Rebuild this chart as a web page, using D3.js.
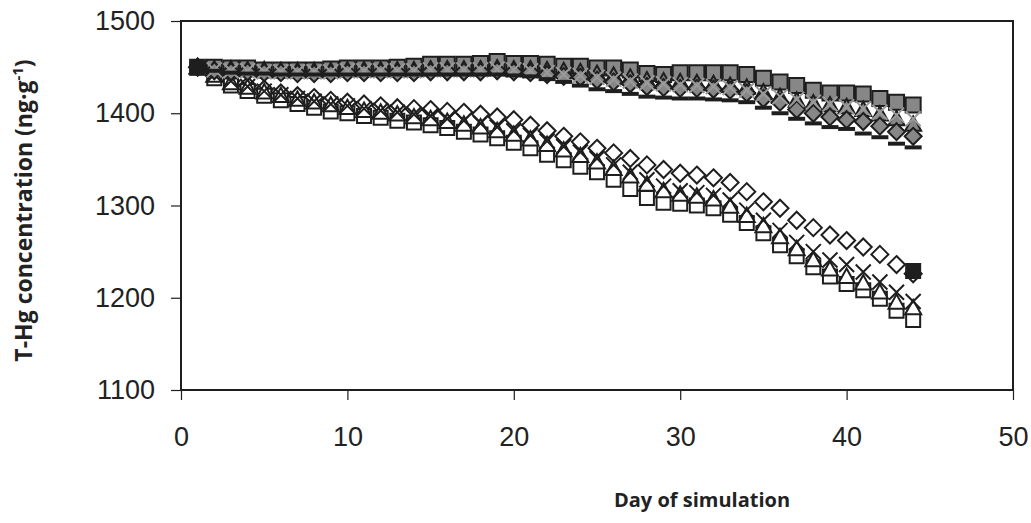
<!DOCTYPE html>
<html>
<head>
<meta charset="utf-8">
<script src="https://cdn.jsdelivr.net/npm/d3@7"></script>
<style>
  body { margin: 0; background: #fff; }
  svg { display: block; }
  .tick text { font-family: "Liberation Sans", Arial, sans-serif; fill: #222; }
  .title { font-family: "Open Sans", sans-serif; font-weight: 700; fill: #222; }
</style>
</head>
<body>
<svg id="chart" width="1031" height="523"></svg>
<script>
// Day of simulation for every modelled point.
var days = [1, 2, 3, 4, 5, 6, 7, 8, 9, 10, 11, 12, 13, 14, 15, 16, 17, 18, 19, 20, 21, 22,
  23, 24, 25, 26, 27, 28, 29, 30, 31, 32, 33, 34, 35, 36, 37, 38, 39, 40, 41, 42, 43, 44];

// Upper group (grey filled markers).
var upperSquares = [1450, 1450, 1449, 1449, 1447, 1447, 1447, 1447, 1448, 1449,
  1449, 1449, 1450, 1451, 1453, 1453, 1453, 1454, 1456, 1454,
  1454, 1453, 1451, 1451, 1449, 1449, 1447, 1443, 1442, 1444,
  1444, 1444, 1444, 1442, 1438, 1434, 1430, 1425, 1422, 1422,
  1421, 1416, 1412, 1409];
var upperTriangles = [1450, 1448, 1448, 1447, 1447, 1446, 1446, 1446, 1446, 1447,
  1447, 1447, 1447, 1447, 1448, 1448, 1448, 1448, 1449, 1448,
  1448, 1447, 1446, 1445, 1443, 1441, 1439, 1436, 1435, 1434,
  1433, 1432, 1430, 1428, 1423, 1418, 1414, 1411, 1409, 1407,
  1404, 1399, 1394, 1388];
var upperDiamonds = [1450, 1446, 1445, 1445, 1444, 1444, 1443, 1443, 1443, 1444,
  1444, 1444, 1444, 1444, 1445, 1445, 1445, 1445, 1446, 1445,
  1444, 1442, 1440, 1439, 1436, 1434, 1432, 1429, 1428, 1427,
  1427, 1426, 1425, 1422, 1416, 1412, 1404, 1400, 1396, 1393,
  1391, 1386, 1380, 1375];
var upperCrosses = [1450, 1447, 1446, 1446, 1445, 1445, 1445, 1445, 1445, 1446,
  1446, 1446, 1446, 1446, 1447, 1447, 1447, 1447, 1448, 1447,
  1446, 1444, 1442, 1441, 1439, 1437, 1435, 1433, 1432, 1431,
  1430, 1429, 1428, 1425, 1421, 1418, 1415, 1412, 1410, 1407,
  1405, 1401, 1398, 1394];
var upperDashes = [1450, 1446, 1444, 1443, 1443, 1442, 1442, 1442, 1442, 1442,
  1442, 1442, 1442, 1442, 1442, 1442, 1442, 1442, 1442, 1441,
  1440, 1437, 1434, 1430, 1426, 1424, 1421, 1418, 1417, 1416,
  1416, 1415, 1414, 1412, 1406, 1400, 1394, 1389, 1385, 1383,
  1378, 1374, 1367, 1363];

// Lower group (open markers).
var lowerDiamonds = [1450, 1441, 1435, 1430, 1426, 1422, 1419, 1417, 1414, 1412,
  1410, 1408, 1406, 1405, 1404, 1402, 1401, 1399, 1396, 1393,
  1387, 1381, 1375, 1369, 1362, 1357, 1351, 1344, 1339, 1335,
  1333, 1330, 1325, 1315, 1304, 1297, 1284, 1276, 1268, 1262,
  1255, 1247, 1236, 1226];
var lowerSquares = [1450, 1438, 1430, 1424, 1419, 1414, 1410, 1406, 1402, 1400,
  1397, 1395, 1392, 1390, 1387, 1384, 1380, 1377, 1373, 1368,
  1362, 1355, 1349, 1342, 1336, 1328, 1318, 1308, 1303, 1302,
  1300, 1297, 1290, 1281, 1270, 1257, 1245, 1233, 1223, 1215,
  1208, 1199, 1186, 1176];
var lowerTriangles = [1450, 1441, 1433, 1428, 1423, 1419, 1415, 1412, 1409, 1406,
  1403, 1401, 1399, 1396, 1394, 1391, 1388, 1385, 1381, 1377,
  1372, 1366, 1360, 1354, 1347, 1340, 1332, 1323, 1316, 1312,
  1310, 1307, 1299, 1289, 1278, 1266, 1253, 1241, 1231, 1223,
  1216, 1206, 1195, 1189];
var lowerCrosses = [1450, 1442, 1435, 1429, 1424, 1420, 1416, 1413, 1410, 1408,
  1405, 1403, 1401, 1399, 1397, 1394, 1392, 1389, 1385, 1381,
  1376, 1370, 1364, 1358, 1351, 1344, 1336, 1328, 1321, 1316,
  1314, 1311, 1306, 1295, 1284, 1273, 1260, 1250, 1241, 1236,
  1228, 1217, 1206, 1196];

// Measured values (black squares).
var observedDays = [1, 44];
var observedValues = [1450, 1229];

// Axis ticks.
var xTicks = [0, 10, 20, 30, 40, 50];
var yTicks = [1100, 1200, 1300, 1400, 1500];

var ink = '#1e1e1e';
var grey = '#878787';

// Marker outlines, centred on 0,0.
var shapes = {
  square: function(s) { return 'M' + -s + ',' + -s + 'H' + s + 'V' + s + 'H' + -s + 'Z'; },
  diamond: function(s) { return 'M0,' + -s + 'L' + s + ',0L0,' + s + 'L' + -s + ',0Z'; },
  triangle: function(s) { return 'M0,' + -s + 'L' + s + ',' + s * 0.8 + 'L' + -s + ',' + s * 0.8 + 'Z'; },
  cross: function(s) { return 'M' + -s + ',' + -s + 'L' + s + ',' + s + 'M' + s + ',' + -s + 'L' + -s + ',' + s; },
  dash: function(s) { return 'M' + -s + ',-2H' + s + 'V2H' + -s + 'Z'; }
};

// Drawing order matters: later series sit on top.
var series = [
  { values: lowerDiamonds, shape: 'diamond', size: 8.5, fill: '#fff', stroke: ink, width: 2 },
  { values: lowerSquares, shape: 'square', size: 7, fill: '#fff', stroke: ink, width: 2 },
  { values: lowerTriangles, shape: 'triangle', size: 8, fill: '#fff', stroke: ink, width: 2 },
  { values: lowerCrosses, shape: 'cross', size: 7.5, fill: 'none', stroke: ink, width: 2 },
  { values: upperSquares, shape: 'square', size: 7.5, fill: grey, stroke: ink, width: 2 },
  { values: upperTriangles, shape: 'triangle', size: 8, fill: grey, stroke: ink, width: 2 },
  { values: upperDiamonds, shape: 'diamond', size: 8.5, fill: grey, stroke: ink, width: 2 },
  { values: upperCrosses, shape: 'cross', size: 7.5, fill: 'none', stroke: '#9a9a9a', width: 2 },
  { values: upperDashes, shape: 'dash', size: 8.5, fill: ink, stroke: 'none', width: 0 }
];

var width = 1031, height = 523;
var margin = { top: 21, right: 18, bottom: 133, left: 181 };
var innerW = width - margin.left - margin.right;
var innerH = height - margin.top - margin.bottom;

var svg = d3.select('#chart');
var g = svg.append('g').attr('transform', 'translate(' + margin.left + ',' + margin.top + ')');

var x = d3.scaleLinear().domain([0, 50]).range([0, innerW]);
var y = d3.scaleLinear().domain([1100, 1500]).range([innerH, 0]);

// Axes.
var yAxis = g.append('g')
  .call(d3.axisLeft(y).tickValues(yTicks).tickFormat(d3.format('d'))
    .tickSize(10).tickSizeOuter(0).tickPadding(16));
var xAxis = g.append('g')
  .attr('transform', 'translate(0,' + innerH + ')')
  .call(d3.axisBottom(x).tickValues(xTicks).tickSize(10).tickSizeOuter(0).tickPadding(27));

[yAxis, xAxis].forEach(function(a) {
  a.selectAll('.domain').remove();
  a.selectAll('.tick line').attr('stroke', ink).attr('stroke-width', 1.2);
  a.selectAll('.tick text').attr('font-size', 27);
});

// Plot frame.
g.append('rect')
  .attr('width', innerW).attr('height', innerH)
  .attr('fill', 'none').attr('stroke', ink).attr('stroke-width', 2);

// Series markers.
series.forEach(function(s) {
  g.append('g').selectAll('path')
    .data(s.values)
    .join('path')
    .attr('transform', function(v, i) { return 'translate(' + x(days[i]) + ',' + y(v) + ')'; })
    .attr('d', shapes[s.shape](s.size))
    .attr('fill', s.fill)
    .attr('stroke', s.stroke)
    .attr('stroke-width', s.width)
    .attr('stroke-linejoin', 'miter');
});

// Observed points on top.
g.append('g').selectAll('path')
  .data(observedValues)
  .join('path')
  .attr('transform', function(v, i) { return 'translate(' + x(observedDays[i]) + ',' + y(v) + ')'; })
  .attr('d', shapes.square(8))
  .attr('fill', ink);

// Axis titles.
svg.append('text')
  .attr('class', 'title')
  .attr('x', 702).attr('y', 507)
  .attr('text-anchor', 'middle')
  .attr('font-size', 20)
  .text('Day of simulation');

var yTitle = svg.append('text')
  .attr('class', 'title')
  .attr('transform', 'translate(32,' + (margin.top + innerH / 2 + 5) + ') rotate(-90)')
  .attr('text-anchor', 'middle')
  .attr('font-size', 23);
yTitle.append('tspan').text('T-Hg concentration (ng\u00b7g');
yTitle.append('tspan').attr('font-size', 15).attr('dy', -9).text('-1');
yTitle.append('tspan').attr('dy', 9).text(')');
</script>
</body>
</html>
